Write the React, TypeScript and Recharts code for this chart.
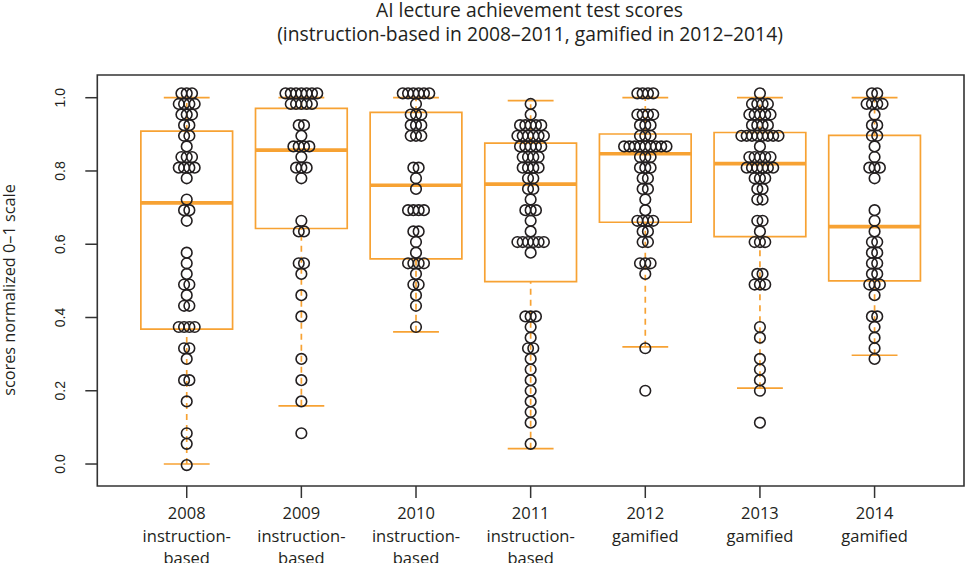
import React from 'react';
import { ComposedChart, Scatter, XAxis, YAxis, ReferenceArea, ReferenceLine } from 'recharts';

// ---- categories / labels ----
const years = ['2008', '2009', '2010', '2011', '2012', '2013', '2014'];
const methodLines = [
  ['instruction-', 'based'],
  ['instruction-', 'based'],
  ['instruction-', 'based'],
  ['instruction-', 'based'],
  ['gamified'],
  ['gamified'],
  ['gamified'],
];
const yTicks = [0, 0.2, 0.4, 0.6, 0.8, 1.0];

// ---- box statistics ----
const lowerWhisker = [0.0, 0.159, 0.361, 0.042, 0.32, 0.207, 0.297];
const q1 = [0.3685, 0.643, 0.56, 0.498, 0.66, 0.621, 0.5];
const median = [0.713, 0.857, 0.761, 0.764, 0.847, 0.82, 0.648];
const q3 = [0.909, 0.971, 0.96, 0.876, 0.901, 0.905, 0.897];
const upperWhisker = [1.0, 1.0, 1.0, 0.992, 1.0, 1.0, 1.0];

// ---- individual scores (beeswarm rows, as drawn) ----
const scores2008 = [
  1.012, 1.012, 1.012,
  0.983, 0.983, 0.983, 0.983,
  0.954, 0.954, 0.954,
  0.925, 0.925,
  0.896, 0.896,
  0.867,
  0.838, 0.838, 0.838,
  0.809, 0.809, 0.809, 0.809,
  0.78,
  0.722,
  0.693, 0.693,
  0.664,
  0.577,
  0.548,
  0.519,
  0.49, 0.49,
  0.461,
  0.432, 0.432,
  0.374, 0.374, 0.374, 0.374,
  0.316, 0.316,
  0.287,
  0.229, 0.229,
  0.171,
  0.084,
  0.055,
  -0.003,
];
const scores2009 = [
  1.012, 1.012, 1.012, 1.012, 1.012, 1.012, 1.012,
  0.983, 0.983, 0.983, 0.983, 0.983,
  0.925, 0.925,
  0.896,
  0.867, 0.867, 0.867, 0.867,
  0.838,
  0.809, 0.809, 0.809,
  0.78,
  0.664,
  0.635, 0.635,
  0.548, 0.548,
  0.519,
  0.461,
  0.403,
  0.287,
  0.229,
  0.171,
  0.084,
];
const scores2010 = [
  1.012, 1.012, 1.012, 1.012, 1.012, 1.012,
  0.983,
  0.954, 0.954, 0.954,
  0.925, 0.925, 0.925,
  0.896, 0.896, 0.896,
  0.809, 0.809,
  0.78,
  0.751,
  0.693, 0.693, 0.693, 0.693,
  0.635, 0.635,
  0.606,
  0.577,
  0.548, 0.548, 0.548, 0.548,
  0.519,
  0.49, 0.49,
  0.461,
  0.432,
  0.374,
];
const scores2011 = [
  0.983,
  0.954,
  0.925, 0.925, 0.925, 0.925, 0.925,
  0.896, 0.896, 0.896, 0.896, 0.896, 0.896,
  0.867, 0.867, 0.867, 0.867, 0.867,
  0.838, 0.838, 0.838, 0.838,
  0.809, 0.809, 0.809, 0.809,
  0.78, 0.78,
  0.751, 0.751,
  0.722,
  0.693, 0.693, 0.693,
  0.664,
  0.635,
  0.606, 0.606, 0.606, 0.606, 0.606, 0.606,
  0.577,
  0.403, 0.403, 0.403,
  0.374,
  0.345,
  0.316, 0.316,
  0.287,
  0.258,
  0.229,
  0.2,
  0.171,
  0.142,
  0.113,
  0.055,
];
const scores2012 = [
  1.012, 1.012, 1.012, 1.012,
  0.954, 0.954, 0.954, 0.954,
  0.925, 0.925, 0.925,
  0.896, 0.896, 0.896,
  0.867, 0.867, 0.867, 0.867, 0.867, 0.867, 0.867, 0.867, 0.867,
  0.838, 0.838, 0.838,
  0.809, 0.809, 0.809,
  0.78, 0.78,
  0.751, 0.751,
  0.722,
  0.693,
  0.664, 0.664, 0.664, 0.664,
  0.635, 0.635,
  0.606, 0.606,
  0.548, 0.548, 0.548,
  0.519,
  0.316,
  0.2,
];
const scores2013 = [
  1.012,
  0.983, 0.983, 0.983, 0.983,
  0.954, 0.954, 0.954, 0.954, 0.954,
  0.925, 0.925, 0.925, 0.925,
  0.896, 0.896, 0.896, 0.896, 0.896, 0.896, 0.896, 0.896,
  0.867,
  0.838, 0.838, 0.838, 0.838, 0.838,
  0.809, 0.809, 0.809, 0.809, 0.809, 0.809,
  0.78, 0.78, 0.78,
  0.751, 0.751,
  0.722, 0.722,
  0.664, 0.664,
  0.635,
  0.606, 0.606, 0.606,
  0.519, 0.519,
  0.49, 0.49, 0.49,
  0.374,
  0.345,
  0.287,
  0.258,
  0.229,
  0.2,
  0.113,
];
const scores2014 = [
  1.012, 1.012,
  0.983, 0.983, 0.983, 0.983,
  0.954,
  0.925, 0.925,
  0.896, 0.896,
  0.867,
  0.838,
  0.809, 0.809, 0.809,
  0.78,
  0.693,
  0.664,
  0.635,
  0.606, 0.606,
  0.577, 0.577,
  0.548, 0.548,
  0.519, 0.519,
  0.49, 0.49, 0.49,
  0.461,
  0.403, 0.403,
  0.374,
  0.345,
  0.316,
  0.287,
];
const allScores = [scores2008, scores2009, scores2010, scores2011, scores2012, scores2013, scores2014];

// ---- styling ----
const ORANGE = '#F7A233';
const INK = '#231F20';
const FONT = "'Open Sans', sans-serif";
const TICK_FONT = "'Liberation Sans', Arial, sans-serif";
const BOX_HALF = 0.4;
const CAP_HALF = 0.2;
const SWARM_DX = 0.0462; // horizontal spacing of equal-valued points (x units)
const X_DOMAIN: [number, number] = [0.22, 7.78];
const Y_DOMAIN: [number, number] = [-0.06, 1.062];

// simple "square" beeswarm layout: equal values side by side, centred
function swarm(scores: number[], center: number) {
  const counts = new Map<number, number>();
  scores.forEach((s) => counts.set(s, (counts.get(s) || 0) + 1));
  const seen = new Map<number, number>();
  return scores.map((s) => {
    const n = counts.get(s) || 1;
    const i = seen.get(s) || 0;
    seen.set(s, i + 1);
    return { x: center + (i - (n - 1) / 2) * SWARM_DX, y: s };
  });
}

const points = allScores.flatMap((s, i) => swarm(s, i + 1));

const Ring = (props: any) => {
  const { cx, cy } = props;
  if (cx == null || cy == null) return null;
  return <circle cx={cx} cy={cy} r={5.3} fill="none" stroke={INK} strokeWidth={1.6} />;
};

const XTick = (props: any) => {
  const { x, y, payload } = props;
  const idx = Math.round(payload.value) - 1;
  const lines = [years[idx], ...methodLines[idx]];
  return (
    <g>
      {lines.map((t, k) => (
        <text key={k} x={x} y={y + 19.3 + k * 22.4} textAnchor="middle" fontFamily={FONT} fontSize={16.5} fill={INK}>
          {t}
        </text>
      ))}
    </g>
  );
};

const YTick = (props: any) => {
  const { x, y, payload } = props;
  return (
    <text transform={`translate(${x - 18},${y}) rotate(-90)`} textAnchor="middle" fontFamily={TICK_FONT} fontSize={14} fill={INK}>
      {payload.value.toFixed(1)}
    </text>
  );
};

export default function App() {
  return (
    <div style={{ position: 'absolute', left: 0, top: 0, width: 965, height: 563, background: '#fff' }}>
      <ComposedChart width={965} height={563} margin={{ top: 75, right: 1, bottom: 17, left: 37.3 }}>
        <XAxis
          type="number"
          dataKey="x"
          domain={X_DOMAIN}
          allowDataOverflow
          ticks={[1, 2, 3, 4, 5, 6, 7]}
          interval={0}
          height={60}
          tickSize={12}
          tickMargin={2}
          axisLine={false}
          tickLine={{ stroke: '#333', strokeWidth: 1.5 }}
          tick={<XTick />}
        />
        <YAxis
          type="number"
          dataKey="y"
          domain={Y_DOMAIN}
          allowDataOverflow
          ticks={yTicks}
          interval={0}
          width={60}
          tickSize={12}
          tickMargin={2}
          axisLine={false}
          tickLine={{ stroke: '#333', strokeWidth: 1.5 }}
          tick={<YTick />}
        />
        <Scatter data={points} dataKey="y" shape={<Ring />} isAnimationActive={false} />
        {years.map((_, i) => {
          const c = i + 1;
          return (
            <React.Fragment key={i}>
              <ReferenceLine
                segment={[{ x: c, y: q3[i] }, { x: c, y: upperWhisker[i] }]}
                stroke={ORANGE}
                strokeWidth={1.7}
                strokeDasharray="6 5"
                ifOverflow="visible"
              />
              <ReferenceLine
                segment={[{ x: c, y: lowerWhisker[i] }, { x: c, y: q1[i] }]}
                stroke={ORANGE}
                strokeWidth={1.7}
                strokeDasharray="6 5"
                ifOverflow="visible"
              />
              <ReferenceLine
                segment={[{ x: c - CAP_HALF, y: upperWhisker[i] }, { x: c + CAP_HALF, y: upperWhisker[i] }]}
                stroke={ORANGE}
                strokeWidth={1.7}
                ifOverflow="visible"
              />
              <ReferenceLine
                segment={[{ x: c - CAP_HALF, y: lowerWhisker[i] }, { x: c + CAP_HALF, y: lowerWhisker[i] }]}
                stroke={ORANGE}
                strokeWidth={1.7}
                ifOverflow="visible"
              />
              <ReferenceArea
                x1={c - BOX_HALF}
                x2={c + BOX_HALF}
                y1={q1[i]}
                y2={q3[i]}
                fill="none"
                fillOpacity={0}
                stroke={ORANGE}
                strokeWidth={1.7}
                ifOverflow="visible"
              />
              <ReferenceLine
                segment={[{ x: c - BOX_HALF, y: median[i] }, { x: c + BOX_HALF, y: median[i] }]}
                stroke={ORANGE}
                strokeWidth={3.6}
                ifOverflow="visible"
              />
            </React.Fragment>
          );
        })}
        <ReferenceArea
          x1={X_DOMAIN[0]}
          x2={X_DOMAIN[1]}
          y1={Y_DOMAIN[0]}
          y2={Y_DOMAIN[1]}
          fill="none"
          fillOpacity={0}
          stroke="#333"
          strokeWidth={1.6}
          ifOverflow="visible"
        />
      </ComposedChart>
      <svg width={965} height={563} style={{ position: 'absolute', left: 0, top: 0, pointerEvents: 'none' }}>
        <text x={529.5} y={17.3} textAnchor="middle" fontFamily={FONT} fontSize={19.3} fill={INK}>
          AI lecture achievement test scores
        </text>
        <text x={530} y={40.7} textAnchor="middle" fontFamily={FONT} fontSize={19.3} fill={INK}>
          (instruction-based in 2008–2011, gamified in 2012–2014)
        </text>
        <text transform="translate(15,290) rotate(-90)" textAnchor="middle" fontFamily={FONT} fontSize={16.3} fill={INK}>
          scores normalized 0–1 scale
        </text>
      </svg>
    </div>
  );
}
